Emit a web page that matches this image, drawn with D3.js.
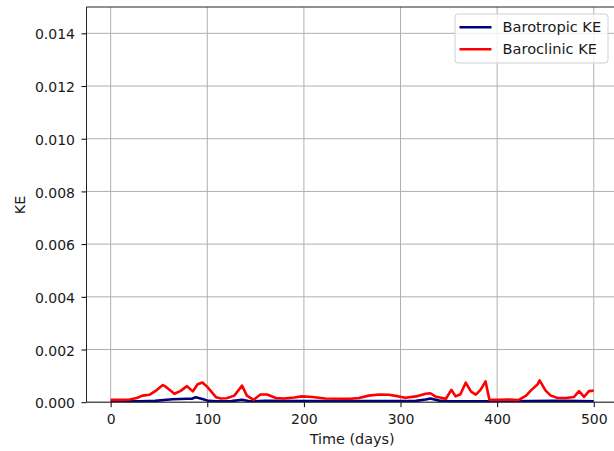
<!DOCTYPE html>
<html>
<head>
<meta charset="utf-8">
<script src="https://cdn.jsdelivr.net/npm/d3@7"></script>
<style>
html,body{margin:0;padding:0;background:#fff;}
svg{display:block;font-family:"DejaVu Sans",sans-serif;}
</style>
</head>
<body>
<svg id="chart" width="614" height="451"></svg>
<script>
// ---- data (KE values in units of 1e-4) ----
const baroclinicDays = [0,10,20,27,33,40,47,54,57,66,72,79,85,90,95,100,109,114,120,128,136,141,148,155,162,171,179,190,198,209,222,240,248,257,267,278,288,298,305,316,326,331,336,347,352.6,357,362,367.5,373,378,383,388,392,402,412,422,430,435,441.7,444,450,455.5,462,471,479.6,484.8,490,495,500];
const baroclinicKE = [0.9,0.9,1.0,1.6,2.5,2.8,4.4,6.5,5.9,3.2,4.2,6.1,4.1,6.8,7.5,5.8,1.9,1.4,1.5,2.5,6.3,2.5,0.9,2.9,2.9,1.6,1.4,1.8,2.2,2.0,1.4,1.3,1.3,1.6,2.5,2.9,2.8,2.2,1.7,2.2,3.2,3.4,2.2,1.3,4.7,2.2,3.0,7.4,4.0,2.9,4.8,7.9,0.9,0.9,1.0,0.8,2.5,4.5,6.7,8.3,4.5,2.5,1.7,1.6,2.0,4.2,2.0,4.2,4.4];
const barotropicDays = [0,30,46,64,79,84,88,95,101,110,125,136,145,160,200,250,300,316,326,331,340,350,400,460,470,500];
const barotropicKE = [0.3,0.3,0.5,1.1,1.3,1.3,1.9,1.2,0.5,0.3,0.4,0.9,0.3,0.5,0.4,0.4,0.4,0.5,1.0,1.4,0.6,0.3,0.3,0.5,0.5,0.3];
const xTicks = [0,100,200,300,400,500];
const yTicks = [0,0.002,0.004,0.006,0.008,0.010,0.012,0.014];
const seriesNames = ["Barotropic KE","Baroclinic KE"];
const seriesColors = ["#00007f","#ff0000"];
const SCALE = 1e-4;

const svg = d3.select("#chart");
const pL = 86.5, pR = 617.9, pT = 7, pB = 402.2;
const x = d3.scaleLinear().domain([-25,525]).range([pL,pR]);
const y = d3.scaleLinear().domain([0,0.015]).range([pB,pT]);

// grid
const g = svg.append("g");
g.selectAll("line.vg").data(xTicks).enter().append("line")
  .attr("x1",d=>x(d)).attr("x2",d=>x(d)).attr("y1",pT).attr("y2",pB)
  .attr("stroke","#b0b0b0").attr("stroke-width",1);
g.selectAll("line.hg").data(yTicks).enter().append("line")
  .attr("x1",pL).attr("x2",pR).attr("y1",d=>y(d)).attr("y2",d=>y(d))
  .attr("stroke","#b0b0b0").attr("stroke-width",1);

// clip
svg.append("clipPath").attr("id","clip").append("rect")
  .attr("x",pL).attr("y",pT).attr("width",pR-pL).attr("height",pB-pT);

const line = d3.line().x(d=>x(d[0])).y(d=>y(d[1]*SCALE));
const plot = svg.append("g").attr("clip-path","url(#clip)");
plot.append("path").datum(barotropicDays.map((d,i)=>[d,barotropicKE[i]]))
  .attr("d",line).attr("fill","none").attr("stroke",seriesColors[0])
  .attr("stroke-width",2.6).attr("stroke-linejoin","round");
plot.append("path").datum(baroclinicDays.map((d,i)=>[d,baroclinicKE[i]]))
  .attr("d",line).attr("fill","none").attr("stroke",seriesColors[1])
  .attr("stroke-width",2.6).attr("stroke-linejoin","round");

// axes
const xAxis = d3.axisBottom(x).tickValues(xTicks).tickSize(5).tickPadding(4).tickFormat(d3.format("d"));
const yAxis = d3.axisLeft(y).tickValues(yTicks).tickSize(5).tickPadding(6.5).tickFormat(d3.format(".3f"));
const gx = svg.append("g").attr("transform",`translate(0,${pB})`).call(xAxis);
const gy = svg.append("g").attr("transform",`translate(${pL},0)`).call(yAxis);
[gx,gy].forEach(a=>{
  a.select(".domain").remove();
  a.selectAll(".tick line").attr("stroke","#000").attr("stroke-width",1);
  a.selectAll(".tick text").attr("fill","#1a1a1a").style("font-size","14px").style("font-family","DejaVu Sans");
});
gx.selectAll(".tick text").attr("dy","0.71em").attr("y",12);
gy.selectAll(".tick text").attr("dy","0.4em");

// spines
svg.append("line").attr("x1",pL).attr("x2",pL).attr("y1",pT).attr("y2",pB).attr("stroke","#222").attr("stroke-width",1);
svg.append("line").attr("x1",pL).attr("x2",pR).attr("y1",pB).attr("y2",pB).attr("stroke","#222").attr("stroke-width",1);
svg.append("line").attr("x1",pL).attr("x2",pR).attr("y1",pT).attr("y2",pT).attr("stroke","#222").attr("stroke-width",1);

// axis labels
svg.append("text").attr("x",(x(0)+x(500))/2).attr("y",443.5).attr("text-anchor","middle")
  .attr("fill","#1a1a1a").style("font-size","14.4px").text("Time (days)");
svg.append("text").attr("transform","translate(24.5,205) rotate(-90)").attr("text-anchor","middle")
  .attr("fill","#1a1a1a").style("font-size","14.4px").text("KE");

// legend
const lg = svg.append("g");
lg.append("rect").attr("x",455).attr("y",14).attr("width",153).attr("height",49).attr("rx",3)
  .attr("fill","#fff").attr("fill-opacity",0.8).attr("stroke","#d0d0d0").attr("stroke-width",1);
seriesNames.forEach((n,i)=>{
  const yy = 27.3 + i*22;
  lg.append("line").attr("x1",459.5).attr("x2",491.5).attr("y1",yy).attr("y2",yy)
    .attr("stroke",seriesColors[i]).attr("stroke-width",2.6);
  lg.append("text").attr("x",502.5).attr("y",yy+5).attr("fill","#1a1a1a").style("font-size","14.6px").text(n);
});
</script>
</body>
</html>
